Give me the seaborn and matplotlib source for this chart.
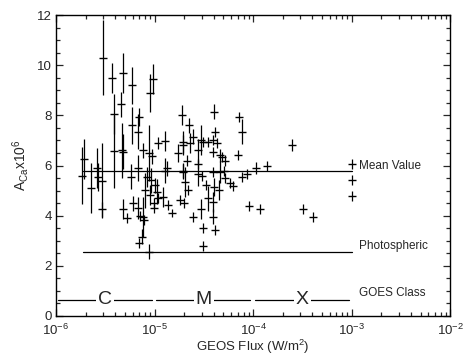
import numpy as np
import pandas as pd
import matplotlib
matplotlib.use("Agg")
import matplotlib.pyplot as plt
import seaborn as sns
from matplotlib.ticker import MultipleLocator, LogLocator

# ---- data ----
flux = [2.98e-6, 3.68e-6, 4.79e-6, 5.87e-6, 9.0e-6, 9.66e-6, 3.91e-6, 4.57e-6, 5.87e-6, 6.96e-6,
        6.85e-6, 1.89e-5, 1.85e-6, 1.92e-6, 2.27e-6, 2.59e-6, 2.69e-6, 2.95e-6, 2.95e-6, 3.91e-6,
        4.64e-6, 4.82e-6, 4.82e-6, 5.22e-6, 5.77e-6, 6.85e-6, 7.70e-6, 8.80e-6, 9.50e-6, 1.08e-5,
        1.28e-5, 1.75e-5, 1.96e-5, 1.96e-5, 1.28e-5, 1.33e-5, 8.33e-6, 9.21e-6, 1.01e-5, 8.01e-6,
        9.0e-6, 1.05e-5, 1.09e-5, 1.23e-5, 9.95e-6, 9.95e-6, 1.38e-5, 1.50e-5, 6.09e-6, 6.75e-6,
        7.13e-6, 7.70e-6, 7.41e-6, 6.96e-6, 8.86e-6, 1.82e-5, 2.01e-5, 7.88e-6, 2.26e-5, 2.44e-5,
        1.96e-5, 2.29e-5, 2.15e-5, 2.94e-5, 3.08e-5, 2.78e-5, 3.52e-5, 3.95e-5, 4.05e-5, 4.11e-5,
        3.95e-5, 4.28e-5, 4.62e-5, 4.81e-5, 5.20e-5, 1.96e-5, 2.04e-5, 2.20e-5, 2.78e-5, 2.78e-5,
        3.01e-5, 3.95e-5, 4.62e-5, 5.08e-5, 5.20e-5, 5.84e-5, 6.22e-5, 3.33e-5, 4.05e-5, 4.55e-5,
        3.52e-5, 3.95e-5, 2.94e-5, 2.48e-5, 3.90e-5, 3.08e-5, 4.11e-5, 3.08e-5, 7.26e-5, 7.67e-5,
        7.0e-5, 7.78e-5, 8.75e-5, 1.06e-4, 1.38e-4, 2.46e-4, 9.1e-5, 1.18e-4, 3.24e-4, 4.04e-4,
        1.0e-3, 1.0e-3, 1.0e-3]
aca = [10.3, 9.5, 9.7, 9.2, 8.9, 9.45, 8.05, 8.45, 7.6, 7.93,
       7.35, 8.0, 5.6, 6.25, 5.1, 5.9, 5.55, 5.4, 4.26, 6.57,
       6.6, 6.55, 4.28, 3.92, 5.55, 5.9, 6.6, 6.5, 6.37, 6.9,
       6.97, 6.5, 6.94, 5.8, 5.8, 5.9, 5.55, 5.42, 5.22, 5.02,
       4.82, 4.95, 4.7, 4.75, 4.5, 4.3, 4.42, 4.1, 4.5, 4.3,
       4.0, 3.95, 3.16, 2.92, 2.56, 4.62, 4.5, 3.82, 7.6, 7.15,
       6.8, 6.88, 6.2, 7.0, 6.95, 6.6, 6.94, 7.0, 8.14, 7.34,
       6.55, 6.88, 6.4, 6.35, 6.2, 5.75, 5.35, 5.02, 6.08, 5.68,
       5.6, 5.75, 5.75, 5.8, 5.49, 5.29, 5.18, 5.22, 5.15, 5.02,
       4.69, 4.55, 4.25, 3.95, 3.95, 3.49, 3.43, 2.79, 7.94, 7.34,
       6.41, 5.55, 5.66, 5.91, 5.98, 6.81, 4.39, 4.26, 4.25, 3.96,
       6.08, 5.42, 4.79]
aca_err = [1.5, 0.6, 0.8, 0.75, 0.75, 0.6, 0.8, 0.5, 0.75, 0.35,
           0.7, 0.4, 1.15, 0.8, 1.0, 0.8, 0.55, 1.5, 0.3, 1.45,
           1.1, 0.7, 0.4, 0.2, 0.5, 0.5, 0.3, 1.1, 0.3, 0.25,
           0.4, 0.35, 0.45, 0.3, 0.5, 0.3, 0.4, 0.5, 0.3, 0.7,
           0.4, 0.5, 0.2, 0.4, 0.2, 0.2, 0.2, 0.15, 0.3, 0.45,
           0.2, 0.8, 0.3, 0.2, 0.3, 0.2, 0.2, 0.2, 0.3, 0.3,
           0.4, 0.4, 0.2, 0.6, 0.2, 0.45, 0.2, 0.2, 0.3, 0.2,
           0.2, 0.2, 0.25, 0.2, 0.2, 0.3, 0.6, 0.2, 0.2, 0.5,
           0.2, 0.2, 0.45, 0.2, 0.2, 0.2, 0.2, 0.2, 0.35, 0.4,
           0.5, 0.4, 0.4, 0.2, 0.3, 0.2, 0.2, 0.2, 0.2, 0.5,
           0.2, 0.2, 0.2, 0.25, 0.2, 0.25, 0.2, 0.2, 0.2, 0.2,
           0.2, 0.2, 0.2]

mean_value = 5.78
photospheric = 2.56
ref_x = [1.87e-6, 1.0e-3]
goes_y = 0.62
goes_classes = ["C", "M", "X"]
goes_decades = [-6, -5, -4, -3]  # decade boundaries (log10)

df = pd.DataFrame({"flux": flux, "aca": aca, "err": aca_err})

# ---- style ----
sns.set_style("ticks")
plt.rcParams["font.family"] = ["Liberation Sans", "DejaVu Sans"]
plt.rcParams["mathtext.fontset"] = "custom"
plt.rcParams["mathtext.rm"] = "Liberation Sans"
plt.rcParams["mathtext.it"] = "Liberation Sans"

fig = plt.figure(figsize=(4.70, 3.61), dpi=100)
ax = fig.add_axes([0.119, 0.125, 0.839, 0.833])

ax.set_xscale("log")
ax.errorbar(df["flux"], df["aca"], yerr=df["err"], fmt="none", ecolor="black",
            elinewidth=0.9, capsize=0)
sns.scatterplot(data=df, x="flux", y="aca", marker="_", s=40, color="black",
                linewidth=1.0, ax=ax, legend=False)

# reference lines
ax.plot(ref_x, [mean_value, mean_value], color="black", lw=0.9)
ax.plot(ref_x, [photospheric, photospheric], color="black", lw=0.9)
ax.text(1.2e-3, mean_value + 0.2, "Mean Value", fontsize=8.5, va="center", ha="left")
ax.text(1.2e-3, photospheric + 0.22, "Photospheric", fontsize=8.5, va="center", ha="left")

# GOES class scale
for i in range(len(goes_decades) - 1):
    lo, hi = goes_decades[i], goes_decades[i + 1]
    ax.plot([10 ** (lo + 0.02), 10 ** (hi - 0.03)], [goes_y, goes_y], color="black", lw=0.9)
    ax.text(10 ** ((lo + hi) / 2), goes_y + 0.05, goes_classes[i], fontsize=14, ha="center", va="center",
            bbox=dict(facecolor="white", edgecolor="none", pad=1.5))
ax.text(1.2e-3, goes_y + 0.28, "GOES Class", fontsize=8.5, va="center", ha="left")

ax.set_xlim(1e-6, 1e-2)
ax.set_ylim(0, 12)
ax.yaxis.set_major_locator(MultipleLocator(2))
ax.yaxis.set_minor_locator(MultipleLocator(0.5))
ax.xaxis.set_major_locator(LogLocator(base=10, numticks=10))
ax.xaxis.set_minor_locator(LogLocator(base=10, subs=np.arange(2, 10), numticks=20))
ax.tick_params(which="both", direction="in", top=True, right=True, labelsize=9.5, width=0.9)
ax.tick_params(which="major", length=5)
ax.tick_params(which="minor", length=3)
ax.tick_params(axis="x", pad=5)
ax.tick_params(axis="y", pad=3)
for s in ax.spines.values():
    s.set_linewidth(1.0)
    s.set_color("black")

ax.set_xlabel("GEOS Flux (W/m$^2$)", fontsize=9.5, labelpad=0)
ax.set_ylabel(r"A$_{\mathrm{Ca}}$x10$^6$", fontsize=10, labelpad=4)

fig.savefig("out.png", dpi=100)
